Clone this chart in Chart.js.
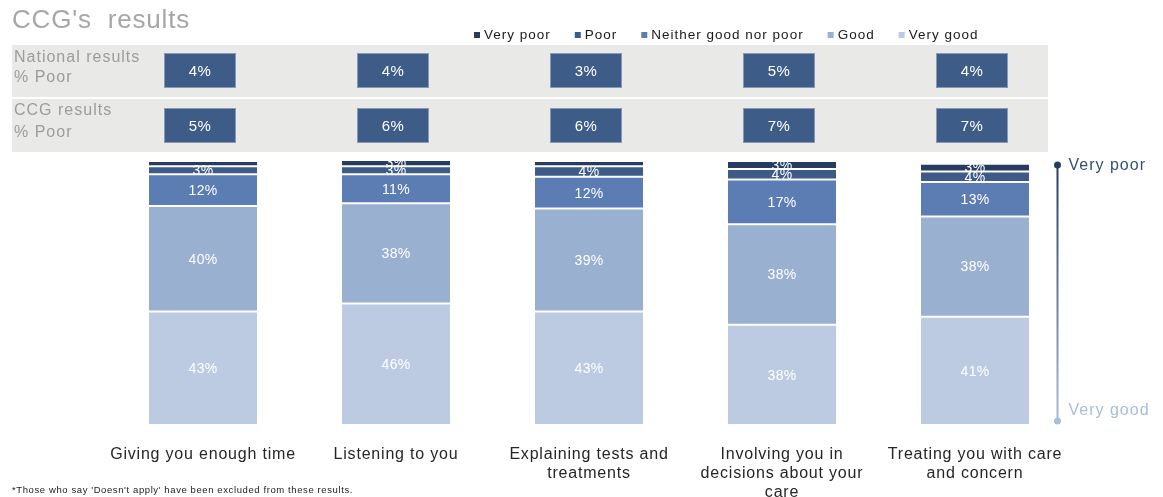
<!DOCTYPE html>
<html>
<head>
<meta charset="utf-8">
<script src="https://cdn.jsdelivr.net/npm/chart.js@4/dist/chart.umd.min.js"></script>
<style>
  html, body { margin: 0; padding: 0; background: #fff; }
  #wrap { width: 1163px; height: 497px; position: relative; }
</style>
</head>
<body>
<div id="wrap"><canvas id="c" width="1163" height="497"></canvas></div>
<script>
const categories = [
  ['Giving you enough time'],
  ['Listening to you'],
  ['Explaining tests and', 'treatments'],
  ['Involving you in', 'decisions about your', 'care'],
  ['Treating you with care', 'and concern']
];
const seriesNames = ['Very poor', 'Poor', 'Neither good nor poor', 'Good', 'Very good'];
const veryPoor = [2, 3, 2, 3, 3];
const poor = [3, 3, 4, 4, 4];
const neither = [12, 11, 12, 17, 13];
const good = [40, 38, 39, 38, 38];
const veryGood = [43, 46, 43, 38, 41];
const nationalPoor = [4, 4, 3, 5, 4];
const ccgPoor = [5, 6, 6, 7, 7];
const chartTitle = "CCG's  results";
const rowLabels = [['National results', '% Poor'], ['CCG results', '% Poor']];
const scaleLabels = ['Very poor', 'Very good'];
const footnote = "*Those who say 'Doesn't apply' have been excluded from these results.";

const colors = {
  'Very poor': '#263d61',
  'Poor': '#3e5b88',
  'Neither good nor poor': '#5b7db3',
  'Good': '#9ab0d0',
  'Very good': '#bccbe2'
};
const seriesData = {
  'Very poor': veryPoor,
  'Poor': poor,
  'Neither good nor poor': neither,
  'Good': good,
  'Very good': veryGood
};

const FONT = "'Liberation Sans', Arial, sans-serif";

// bottom-up stacking order
const stackOrder = ['Very good', 'Good', 'Neither good nor poor', 'Poor', 'Very poor'];
const datasets = stackOrder.map(name => ({
  label: name,
  data: seriesData[name],
  backgroundColor: colors[name],
  borderColor: '#ffffff',
  borderWidth: { top: 1, bottom: 1, left: 0, right: 0 },
  borderSkipped: false,
  barPercentage: 0.56,
  categoryPercentage: 1.0
}));

const decorPlugin = {
  id: 'decor',
  beforeDraw(chart) {
    const ctx = chart.ctx;
    const xs = chart.scales.x;
    ctx.save();
    // title
    ctx.fillStyle = '#a6a6a6';
    ctx.font = '26px ' + FONT;
    ctx.letterSpacing = '0.8px';
    ctx.textBaseline = 'middle';
    ctx.textAlign = 'left';
    ctx.fillText(chartTitle, 12, 21);

    // legend
    ctx.font = '13.5px ' + FONT;
    ctx.letterSpacing = '1px';
    let lx = 474;
    const ly = 35;
    seriesNames.forEach(name => {
      ctx.fillStyle = colors[name];
      ctx.fillRect(lx, ly - 3, 6, 6);
      ctx.fillStyle = '#1a1a1a';
      ctx.fillText(name, lx + 10, ly);
      lx += 10 + ctx.measureText(name).width + 24;
    });

    // grey bands
    const bands = [[45, 97], [99, 152]];
    ctx.fillStyle = '#e9e9e7';
    bands.forEach(b => ctx.fillRect(12, b[0], 1036, b[1] - b[0]));

    // row labels
    ctx.fillStyle = '#9c9c9c';
    ctx.font = '16px ' + FONT;
    ctx.letterSpacing = '1px';
    ctx.fillText(rowLabels[0][0], 14, 58);
    ctx.fillText(rowLabels[0][1], 14, 78);
    ctx.fillText(rowLabels[1][0], 14, 111);
    ctx.fillText(rowLabels[1][1], 14, 133);

    // boxes
    ctx.letterSpacing = '0.5px';
    const rows = [[nationalPoor, 53, 88], [ccgPoor, 108, 143]];
    rows.forEach(r => {
      r[0].forEach((v, i) => {
        const cx = xs.getPixelForValue(i) - 3;
        const w = 72;
        ctx.fillStyle = '#3e5c88';
        ctx.fillRect(cx - w / 2, r[1], w, r[2] - r[1]);
        ctx.strokeStyle = '#8798b8';
        ctx.lineWidth = 1;
        ctx.strokeRect(cx - w / 2 + 0.5, r[1] + 0.5, w - 1, r[2] - r[1] - 1);
        ctx.fillStyle = '#ffffff';
        ctx.font = '15px ' + FONT;
        ctx.textAlign = 'center';
        ctx.fillText(v + '%', cx, (r[1] + r[2]) / 2 + 1);
        ctx.textAlign = 'left';
      });
    });

    // footnote
    ctx.fillStyle = '#222';
    ctx.font = '9.5px ' + FONT;
    ctx.letterSpacing = '0.6px';
    ctx.textAlign = 'left';
    ctx.fillText(footnote, 12, 490);
    ctx.restore();
    // spacing used by axis tick labels
    ctx.letterSpacing = '0.8px';
  },
  afterDatasetsDraw(chart) {
    const ctx = chart.ctx;
    const ca = chart.chartArea;
    ctx.save();
    // value labels
    ctx.letterSpacing = '0.3px';
    ctx.font = '14px ' + FONT;
    ctx.fillStyle = '#ffffff';
    ctx.textAlign = 'center';
    ctx.textBaseline = 'middle';
    chart.data.datasets.forEach((ds, di) => {
      const meta = chart.getDatasetMeta(di);
      meta.data.forEach((el, i) => {
        const v = ds.data[i];
        if (v >= 3) {
          ctx.fillText(v + '%', el.x, (el.y + el.base) / 2 + 1);
        }
      });
    });

    // right indicator
    const x = ca.right - 14;
    const y1 = ca.top + 4;
    const y2 = ca.bottom - 4;
    const g = ctx.createLinearGradient(0, y1, 0, y2);
    g.addColorStop(0, '#263d61');
    g.addColorStop(1, '#a9bddb');
    ctx.strokeStyle = g;
    ctx.lineWidth = 2;
    ctx.beginPath();
    ctx.moveTo(x, y1);
    ctx.lineTo(x, y2);
    ctx.stroke();
    ctx.fillStyle = '#263d61';
    ctx.beginPath(); ctx.arc(x, y1, 3.5, 0, Math.PI * 2); ctx.fill();
    ctx.fillStyle = '#a9bddb';
    ctx.beginPath(); ctx.arc(x, y2, 3.5, 0, Math.PI * 2); ctx.fill();
    ctx.textAlign = 'left';
    ctx.letterSpacing = '1px';
    ctx.font = '16px ' + FONT;
    ctx.fillStyle = '#33507d';
    ctx.fillText(scaleLabels[0], x + 11, y1 + 1);
    ctx.fillStyle = '#a9bddb';
    ctx.fillText(scaleLabels[1], x + 11, y2 - 10);
    ctx.restore();
  },
  afterDraw(chart) {
    chart.ctx.letterSpacing = '0px';
  }
};

new Chart(document.getElementById('c'), {
  type: 'bar',
  data: { labels: categories, datasets: datasets },
  options: {
    responsive: false,
    animation: false,
    layout: { padding: { left: 106.5, right: 91.5, top: 161, bottom: 0 } },
    plugins: { legend: { display: false }, tooltip: { enabled: false }, title: { display: false } },
    scales: {
      x: {
        stacked: true,
        grid: { display: false },
        border: { display: false },
        ticks: {
          color: '#262626',
          font: { family: FONT, size: 16, lineHeight: 1.2 },
          padding: 12,
          maxRotation: 0,
          autoSkip: false
        },
        afterFit(scale) { scale.height = 72; }
      },
      y: {
        stacked: true,
        display: false,
        min: 0,
        max: 100
      }
    }
  },
  plugins: [decorPlugin]
});
</script>
</body>
</html>
